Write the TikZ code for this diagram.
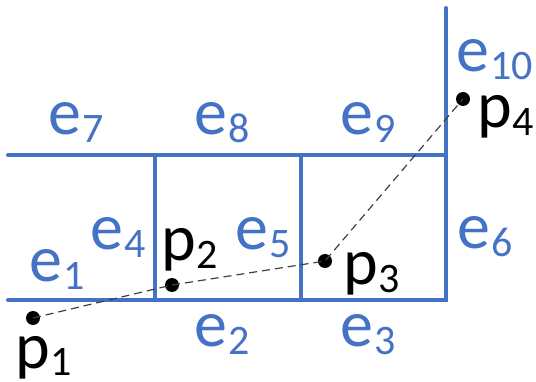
\documentclass[tikz,border=0pt]{standalone}
\usepackage{fontspec}
\setmainfont{Carlito}
\definecolor{eblue}{RGB}{68,114,196}
\newcommand{\lab}[2]{{\fontsize{66}{66}\selectfont #1}\kern1pt\raisebox{-8pt}{\fontsize{42}{42}\selectfont #2}}
\begin{document}
\begin{tikzpicture}[x=1pt,y=-1pt,
  edge/.style={draw=eblue,line width=4pt,line cap=round},
  elab/.style={anchor=base west,inner sep=0pt,text=eblue},
  plab/.style={anchor=base west,inner sep=0pt,text=black},
  dot/.style={circle,fill=black,inner sep=0pt,minimum size=14pt},
  path/.style={draw=black!75,line width=1.2pt,dash pattern=on 8pt off 5pt}]
\useasboundingbox (0,0) rectangle (536,382);
% grid
\coordinate (a0) at (8,155);
\coordinate (a1) at (155,155);
\coordinate (a2) at (301,155);
\coordinate (a3) at (446,155);
\coordinate (b0) at (8,300);
\coordinate (b1) at (155,300);
\coordinate (b2) at (301,300);
\coordinate (b3) at (446,300);
\coordinate (top) at (446,8);
\draw[edge] (a0) -- (a3);
\draw[edge,line join=miter] (b0) -- (b3) -- (top);
\draw[edge] (a1) -- (b1);
\draw[edge] (a2) -- (b2);
% points
\node[dot] (p1) at (33,318) {};
\node[dot] (p2) at (172,285) {};
\node[dot] (p3) at (325,261) {};
\node[dot] (p4) at (463,99) {};
\draw[path] (p1.center) -- (p2.center) -- (p3.center) -- (p4.center);
% edge labels
\node[elab] (e7) at (48,135) {\lab{e}{7}};
\node[elab] (e8) at (194,135) {\lab{e}{8}};
\node[elab] (e9) at (340,135) {\lab{e}{9}};
\node[elab] (e10) at (456,72) {\lab{e}{10}};
\node[elab] (e1) at (29,282) {\lab{e}{1}};
\node[elab] (e4) at (90,250) {\lab{e}{4}};
\node[elab] (e5) at (235,250) {\lab{e}{5}};
\node[elab] (e6) at (457,249) {\lab{e}{6}};
\node[elab] (e2) at (194,347) {\lab{e}{2}};
\node[elab] (e3) at (340,347) {\lab{e}{3}};
% point labels
\node[plab] (l1) at (15,368) {\lab{p}{1}};
\node[plab] (l2) at (161,261) {\lab{p}{2}};
\node[plab] (l3) at (343,285) {\lab{p}{3}};
\node[plab] (l4) at (477,128) {\lab{p}{4}};
\end{tikzpicture}
\end{document}
